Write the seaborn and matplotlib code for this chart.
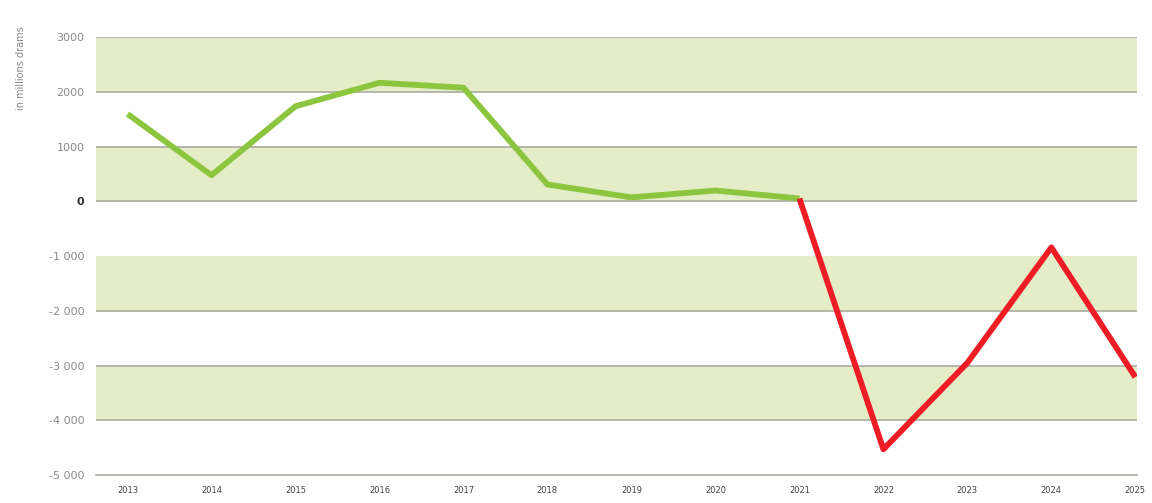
import matplotlib
matplotlib.use("Agg")
import matplotlib.pyplot as plt
import seaborn as sns
import pandas as pd

# values (millions of drams)
years_actual = [2013, 2014, 2015, 2016, 2017, 2018, 2019, 2020, 2021]
values_actual = [1600, 480, 1740, 2170, 2080, 310, 75, 200, 55]

years_forecast = [2021, 2022, 2023, 2024, 2025]
values_forecast = [55, -4530, -2950, -840, -3210]

ytick_values = [3000, 2000, 1000, 0, -1000, -2000, -3000, -4000, -5000]
ytick_labels = ["3000", "2000", "1000", "0", "-1 000", "-2 000", "-3 000", "-4 000", "-5 000"]
band_ranges = [(2000, 3000), (0, 1000), (-2000, -1000), (-4000, -3000)]
grid_levels = [3000, 2000, 1000, 0, -2000, -3000, -4000]

df_actual = pd.DataFrame({"year": years_actual, "value": values_actual})
df_forecast = pd.DataFrame({"year": years_forecast, "value": values_forecast})

sns.set_style("white")

fig = plt.figure(figsize=(11.52, 5.03), dpi=100)
ax = fig.add_axes([0.083, 0.0557, 0.904, 0.870])

for lo, hi in band_ranges:
    ax.axhspan(lo, hi, color="#e5edc8", zorder=0, lw=0)
for lvl in grid_levels:
    ax.axhline(lvl, color="#a9aca2", lw=1.2, zorder=1)

sns.lineplot(data=df_actual, x="year", y="value", color="#8cc63f", lw=4.2,
             ax=ax, zorder=3, solid_capstyle="butt")
sns.lineplot(data=df_forecast, x="year", y="value", color="#ee1c25", lw=4.2,
             ax=ax, zorder=3, solid_capstyle="butt")

ax.set_xlim(2012.62, 2025.02)
ax.set_ylim(-5000, 3000)

ax.set_yticks(ytick_values)
ax.set_yticklabels(ytick_labels, fontsize=8, color="#8a8a8a")
for lab in ax.get_yticklabels():
    if lab.get_text() == "0":
        lab.set_color("#333333")
        lab.set_fontweight("bold")
ax.tick_params(axis="y", length=0, pad=8)

ax.set_xticks(list(range(2013, 2026)))
ax.set_xticklabels([str(y) for y in range(2013, 2026)], fontsize=6, color="#444444")
ax.tick_params(axis="x", length=4, width=0.8, color="#a9aca2", direction="out", pad=4)

for side in ["top", "left", "right"]:
    ax.spines[side].set_visible(False)
ax.spines["bottom"].set_color("#a9aca2")
ax.spines["bottom"].set_linewidth(1.2)

ax.set_xlabel("")
ax.set_ylabel("in millions drams", fontsize=7, color="#888888")
ax.yaxis.set_label_coords(-0.067, 0.93)

fig.savefig("out.png", dpi=100)
